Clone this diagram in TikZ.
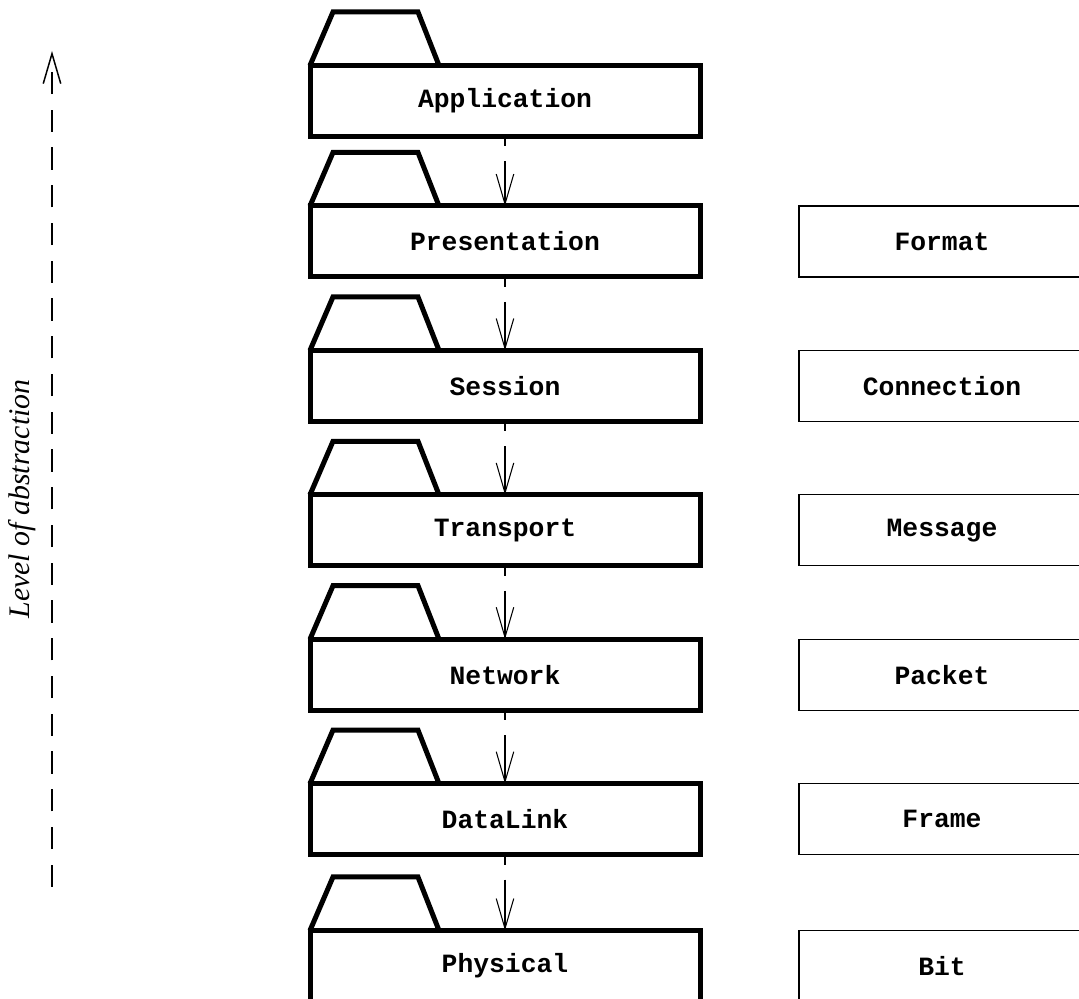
\documentclass[tikz,border=0pt]{standalone}
\usepackage{fontspec}
\setmainfont{Liberation Serif}
\setmonofont{Liberation Mono}
\usetikzlibrary{arrows.meta}

\tikzset{
    layer/.style={draw, line width=1mm, minimum width=7.8cm, minimum height=1.42cm,
        outer sep=0pt, font=\ttfamily\bfseries\fontsize{15}{18}\selectfont},
    pdu/.style={draw, line width=0.7pt, minimum width=5.72cm, minimum height=1.42cm,
        outer sep=0pt, font=\ttfamily\bfseries\fontsize{15}{18}\selectfont},
    passdown/.style={line width=0.6pt, dash pattern=on 2mm off 3mm on 4cm off 1mm,
        -{Straight Barb[length=6mm,width=3.5mm]}},
    axis/.style={line width=0.85pt, dash pattern=on 0.445cm off 0.31cm,
        -{Straight Barb[length=6mm,width=3.5mm]}},
}

\begin{document}
\begin{tikzpicture}
        \useasboundingbox (0,0) rectangle (21.58,19.98);

        % layers
        \node[layer] (app)   at (10.1,17.96)  {Application};
        \node[layer] (pres)  at (10.1,15.15)  {Presentation};
        \node[layer] (sess)  at (10.1,12.262) {Session};
        \node[layer] (trans) at (10.1,9.374)  {Transport};
        \node[layer] (net)   at (10.1,6.486)  {Network};
        \node[layer] (link)  at (10.1,3.598)  {DataLink};
        \node[layer] (phys)  at (10.1,0.66)   {Physical};

        \foreach \n in {app,pres,sess,trans,net,link,phys}
            \draw[line width=1mm] (\n.north west) -- ++(0.46,1.07) -- ++(1.70,0) -- ++(0.42,-1.07);

        \foreach \a/\b in {app/pres,pres/sess,sess/trans,trans/net,net/link,link/phys}
            \draw[passdown] (\a.south) -- (\b.north);

        % data units
        \node[pdu] (format) at (18.84,15.15)  {Format};
        \node[pdu] (conn)   at (18.84,12.262) {Connection};
        \node[pdu] (msg)    at (18.84,9.374)  {Message};
        \node[pdu] (packet) at (18.84,6.486)  {Packet};
        \node[pdu] (frame)  at (18.84,3.598)  {Frame};
        \node[pdu] (bit)    at (18.84,0.66)   {Bit};

        % abstraction axis
        \coordinate (low) at (1.04,2.24);
        \coordinate (high) at (1.04,18.96);
        \draw[axis] (low) -- (high);
        \node[rotate=90, font=\itshape\fontsize{17}{20}\selectfont] (level) at (0.44,10.0) {Level of abstraction};
    \end{tikzpicture}
\end{document}
